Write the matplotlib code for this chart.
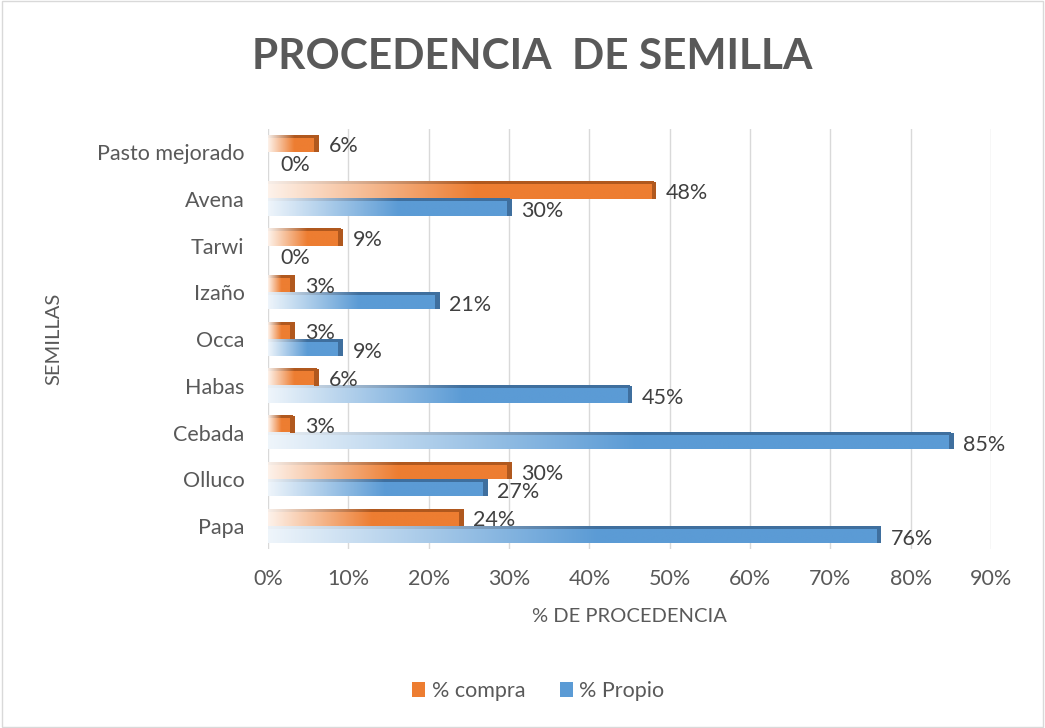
import matplotlib
matplotlib.use("Agg")
import matplotlib.pyplot as plt
import numpy as np
from matplotlib.patches import Rectangle, Patch
from matplotlib.colors import to_rgb

plt.rcParams['font.family'] = ['Lato', 'DejaVu Sans']

categories = ["Papa", "Olluco", "Cebada", "Habas", "Occa", "Izaño", "Tarwi", "Avena", "Pasto mejorado"]
compra = [24, 30, 3, 6, 3, 3, 9, 48, 6]
propio = [76, 27, 85, 45, 9, 21, 0, 30, 0]
xticks = [0, 10, 20, 30, 40, 50, 60, 70, 80, 90]

ORANGE = "#ED7D31"
ORANGE_D = "#B0581E"
BLUE = "#5B9BD5"
BLUE_D = "#3F6F9E"
TEXT = "#595959"

fig = plt.figure(figsize=(10.45, 7.28), dpi=100)
fig.patch.set_facecolor("white")
fig.add_artist(Rectangle((0.002, 0.002), 0.996, 0.996, transform=fig.transFigure,
                         fill=False, edgecolor="#D9D9D9", linewidth=1.0))

ax = fig.add_axes([0.2565, 0.2453, 0.6919, 0.578])

y = np.arange(len(categories))
h = 0.36
bars_c = ax.barh(y + h / 2, compra, height=h, color="none", edgecolor="none")
bars_p = ax.barh(y - h / 2, propio, height=h, color="none", edgecolor="none")


def grad_fill(bars, color, dark):
    rgb = np.array(to_rgb(color))
    drgb = np.array(to_rgb(dark))
    for b in bars:
        x0, y0 = b.get_x(), b.get_y()
        w, hh = b.get_width(), b.get_height()
        if w <= 0:
            continue
        n = 200
        t = np.linspace(0, 1, n)
        a = np.clip(0.10 + t / 0.6, 0, 1)
        img = np.ones((1, n, 3)) * (1 - a[None, :, None]) + rgb[None, None, :] * a[None, :, None]
        ax.imshow(img, extent=[x0, x0 + w, y0, y0 + hh * 0.85], aspect='auto',
                  interpolation='bilinear', zorder=3)
        imgt = np.ones((1, n, 3)) * (1 - a[None, :, None]) + drgb[None, None, :] * a[None, :, None]
        ax.imshow(imgt, extent=[x0, x0 + w, y0 + hh * 0.85, y0 + hh], aspect='auto',
                  interpolation='bilinear', zorder=3)
        ax.add_patch(Rectangle((x0 + w - 0.25, y0), 0.6, hh, facecolor=dark,
                               edgecolor='none', zorder=4))


grad_fill(bars_c, ORANGE, ORANGE_D)
grad_fill(bars_p, BLUE, BLUE_D)

for b, v in zip(bars_c, compra):
    ax.annotate(f"{v}%", (b.get_width(), b.get_y() + b.get_height() / 2),
                xytext=(9, -2), textcoords="offset points", ha="left", va="center",
                fontsize=15.5, color="#404040", zorder=5)
for b, v in zip(bars_p, propio):
    ax.annotate(f"{v}%", (b.get_width(), b.get_y() + b.get_height() / 2),
                xytext=(9, -3), textcoords="offset points", ha="left", va="center",
                fontsize=15.5, color="#404040", zorder=5)

ax.set_xlim(0, 90)
ax.set_ylim(-0.5, len(categories) - 0.5)
ax.set_xticks(xticks)
ax.set_xticklabels([f"{t}%" for t in xticks])
ax.set_yticks(y)
ax.set_yticklabels(categories)
ax.grid(axis='x', color="#D9D9D9", linewidth=1.0, zorder=0)
ax.set_axisbelow(True)
for s in ax.spines.values():
    s.set_visible(False)
ax.tick_params(axis='both', length=0, labelsize=15.5, colors=TEXT)
ax.tick_params(axis='x', pad=14)
ax.tick_params(axis='y', pad=17)

ax.set_xlabel("% DE PROCEDENCIA", fontsize=14.5, color=TEXT, labelpad=14)
ax.set_ylabel("SEMILLAS", fontsize=14.5, color=TEXT)
ax.yaxis.set_label_coords(-0.285, 0.5)

fig.text(0.509, 0.922, "PROCEDENCIA  DE SEMILLA", ha="center", va="center",
         fontsize=30.5, fontweight="bold", color=TEXT)

handles = [Patch(facecolor=ORANGE, label="% compra"), Patch(facecolor=BLUE, label="% Propio")]
fig.legend(handles=handles, loc="center", bbox_to_anchor=(0.515, 0.051), ncol=2,
           frameon=False, fontsize=15.5, handlelength=0.6, handleheight=0.7,
           handletextpad=0.3, columnspacing=1.6, labelcolor=TEXT)

fig.savefig("out.png", dpi=100, facecolor="white")
